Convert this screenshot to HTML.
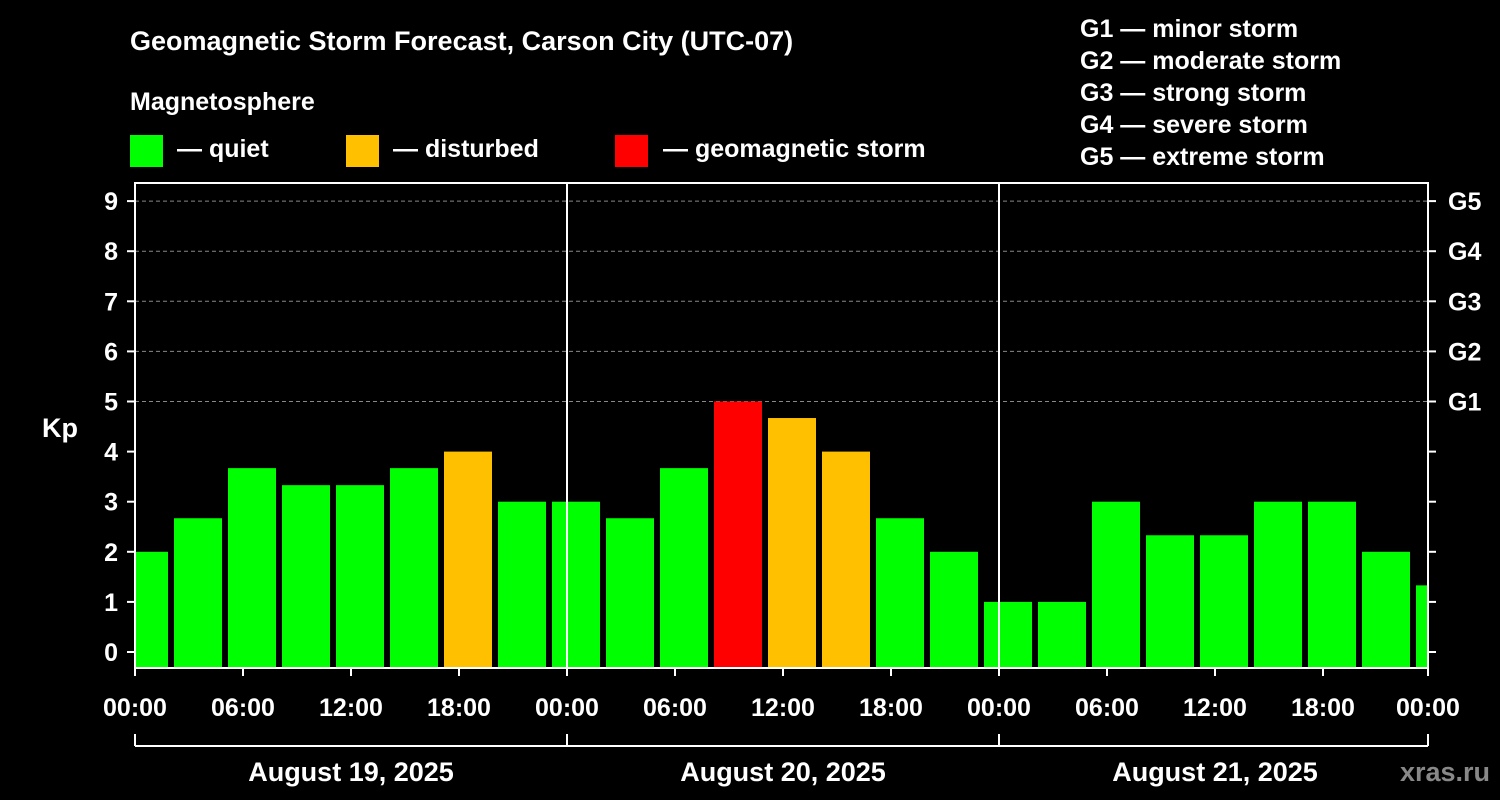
<!DOCTYPE html>
<html><head><meta charset="utf-8"><style>
body{margin:0;background:#000;}
svg{display:block;font-family:"Liberation Sans",Arial,sans-serif;font-weight:bold;}
</style></head><body>
<svg id="c" width="1500" height="800" viewBox="0 0 1500 800">
<rect width="1500" height="800" fill="#000"/>
<text x="130" y="50" fill="#fff" font-size="27">Geomagnetic Storm Forecast, Carson City (UTC-07)</text>
<text x="130" y="110" fill="#fff" font-size="25">Magnetosphere</text>
<g><rect x="130" y="135" width="33" height="32" fill="#00ff00"/><text x="177" y="157" fill="#fff" font-size="25">— quiet</text></g>
<g><rect x="346" y="135" width="33" height="32" fill="#ffc000"/><text x="393" y="157" fill="#fff" font-size="25">— disturbed</text></g>
<g><rect x="615" y="135" width="33" height="32" fill="#ff0000"/><text x="663" y="157" fill="#fff" font-size="25">— geomagnetic storm</text></g>
<g fill="#fff" font-size="25">
<text x="1080" y="37">G1 — minor storm</text><text x="1080" y="69">G2 — moderate storm</text><text x="1080" y="101">G3 — strong storm</text><text x="1080" y="133">G4 — severe storm</text><text x="1080" y="165">G5 — extreme storm</text></g>
<text x="42" y="437" fill="#fff" font-size="27">Kp</text>
<text x="1490" y="781" fill="#888" font-size="27" text-anchor="end">xras.ru</text>
<g id="grid"></g><g id="bars"></g><g id="axes"></g>
</svg>
<script>
const kpValues=[2,2.67,3.67,3.33,3.33,3.67,4,3, 3,2.67,3.67,5,4.67,4,2.67,2, 1,1,3,2.33,2.33,3,3,2, 1.33];
const yTicks=[0,1,2,3,4,5,6,7,8,9];
const gLabels=["G1","G2","G3","G4","G5"];
const xTickLabels=["00:00","06:00","12:00","18:00","00:00","06:00","12:00","18:00","00:00","06:00","12:00","18:00","00:00"];
const dayLabels=["August 19, 2025","August 20, 2025","August 21, 2025"];
const NS="http://www.w3.org/2000/svg";
const L=135,R=1428,T=183,B=668;
const y=v=>652-v*50.1;
const x=h=>L+h*18; // hours from start
function mk(t,a,p){const e=document.createElementNS(NS,t);for(const k in a)e.setAttribute(k,a[k]);p.appendChild(e);return e;}
const grid=document.getElementById('grid'),bars=document.getElementById('bars'),axes=document.getElementById('axes');
yTicks.forEach(v=>{if(v>=5){const g=mk('line',{x1:L,x2:R,y1:y(v),y2:y(v),stroke:'#888','stroke-dasharray':'4,3'},grid);}});
kpValues.forEach((v,i)=>{
 const c=-1+i*3+1.5;let x0=x(c)-24,x1=x(c)+24;x0=Math.max(x0,L);x1=Math.min(x1,R);
 const col=v>=5?'#ff0000':v>=4?'#ffc000':'#00ff00';
 const r=mk('rect',{x:x0,y:y(v),width:x1-x0,height:B-y(v),fill:col},bars);
 });
const fr=mk('rect',{x:L,y:T,width:R-L,height:B-T,fill:'none',stroke:'#fff','stroke-width':2},axes);

[24,48].forEach(h=>{const l=mk('line',{x1:x(h),x2:x(h),y1:T,y2:B,stroke:'#fff','stroke-width':2},axes);});
yTicks.forEach(v=>{
 mk('line',{x1:L-8,x2:L,y1:y(v),y2:y(v),stroke:'#fff','stroke-width':2},axes);
 mk('line',{x1:R,x2:R+8,y1:y(v),y2:y(v),stroke:'#fff','stroke-width':2},axes);
 const t=mk('text',{x:118,y:y(v)+9,fill:'#fff','font-size':25,'text-anchor':'end'},axes);t.textContent=v;
 
 if(v>=5){const g=mk('text',{x:1448,y:y(v)+9,fill:'#fff','font-size':25},axes);g.textContent=gLabels[v-5];
 }
});
xTickLabels.forEach((s,i)=>{const xx=Math.min(x(i*6),R);
 mk('line',{x1:xx,x2:xx,y1:B,y2:B+8,stroke:'#fff','stroke-width':2},axes);
 const t=mk('text',{x:xx,y:716,fill:'#fff','font-size':25,'text-anchor':'middle'},axes);t.textContent=s;
 });
mk('line',{x1:L,x2:R,y1:746,y2:746,stroke:'#fff','stroke-width':2},axes);
[0,24,48,72].forEach(h=>{const xx=Math.min(x(h),R);mk('line',{x1:xx,x2:xx,y1:734,y2:746,stroke:'#fff','stroke-width':2},axes);});
dayLabels.forEach((s,i)=>{const t=mk('text',{x:x(i*24+12),y:781,fill:'#fff','font-size':27,'text-anchor':'middle'},axes);t.textContent=s;
 });
</script>
</body></html>
